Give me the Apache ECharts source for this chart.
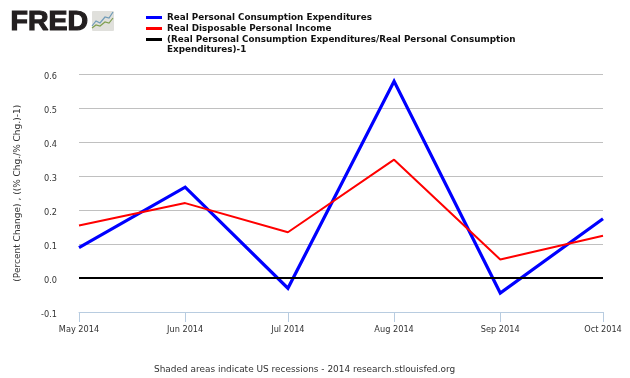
<!DOCTYPE html>
<html><head><meta charset="utf-8">
<style>html,body{margin:0;padding:0;background:#fff}#c{width:630px;height:378px}</style>
<script src="https://cdn.jsdelivr.net/npm/echarts@6/dist/echarts.min.js"></script>
</head><body><div id="c"></div>
<script>
const dates = ['2014-05-01','2014-06-01','2014-07-01','2014-08-01','2014-09-01','2014-10-01'];
const pce = [0.09,0.268,-0.03,0.58,-0.044,0.175];
const dpi = [0.155,0.221,0.135,0.349,0.055,0.125];
const ratio = [0,0,0,0,0,0];
const yTicks = {min:-0.1,max:0.6,interval:0.1};
const names = ['Real Personal Consumption Expenditures','Real Disposable Personal Income','(Real Personal Consumption Expenditures/Real Personal Consumption\nExpenditures)-1'];
const yTitle = '(Percent Change) , ((% Chg./% Chg.)-1)';
const footer = 'Shaded areas indicate US recessions - 2014 research.stlouisfed.org';
const logoA = [[92,26],[96,21],[100,23],[105,17],[109,18],[113,12]];
const logoB = [[92,28],[96,25],[100,26],[105,22],[109,23],[113,18]];
const ts = d => Date.parse(d+'T00:00:00Z');
const pairs = a => dates.map((d,i)=>[ts(d),a[i]]);
const f = '"DejaVu Sans"';
const chart = echarts.init(document.getElementById('c'),null,{renderer:'canvas'});
chart.setOption({
  useUTC:true, animation:false, backgroundColor:'#fff',
  textStyle:{fontFamily:f},
  grid:{left:79,right:27,top:74.5,bottom:66,containLabel:false},
  legend:{left:146,top:12,padding:0,orient:'vertical',itemWidth:16,itemHeight:3,itemGap:0,icon:'rect',
    formatter:n=>n.split('\n')[0],
    textStyle:{fontFamily:f,fontSize:8.8,fontWeight:'bold',color:'#111',lineHeight:11,padding:[0,0,0,0]},
    data:names},
  xAxis:{type:'time',min:ts(dates[0]),max:ts(dates[5]),
    splitNumber:5,
    axisLine:{onZero:false,lineStyle:{color:'#b8cce0',width:1}},
    axisTick:{show:true,inside:false,length:10,lineStyle:{color:'#b8cce0',width:1}},
    axisLabel:{formatter:'{MMM} {yyyy}',fontSize:8.2,color:'#333',margin:14,hideOverlap:false,showMinLabel:true,showMaxLabel:true,alignMinLabel:'center',alignMaxLabel:'center'},
    minorTick:{show:false},splitLine:{show:false}},
  yAxis:{type:'value',...yTicks,
    name:yTitle,nameLocation:'middle',nameGap:56.5,nameRotate:90,
    nameTextStyle:{fontSize:9,color:'#333'},
    axisLine:{show:false},axisTick:{show:false},
    axisLabel:{fontSize:8.2,color:'#333',margin:22,verticalAlign:'top',lineHeight:5,formatter:v=>v.toFixed(1)},
    splitLine:{lineStyle:{color:'#c0c0c0',width:1}}},
  series:[
    {name:names[0],type:'line',data:pairs(pce),symbol:'none',z:3,lineStyle:{color:'#0000ff',width:3.2,join:'miter'},itemStyle:{color:'#0000ff'}},
    {name:names[1],type:'line',data:pairs(dpi),symbol:'none',z:4,lineStyle:{color:'#ff0000',width:2},itemStyle:{color:'#ff0000'}},
    {name:names[2],type:'line',data:pairs(ratio),symbol:'none',z:5,lineStyle:{color:'#000000',width:2},itemStyle:{color:'#000000'}}
  ],
  graphic:[
    {type:'text',left:10,top:7,style:{text:'FRED',font:'900 28.5px "Liberation Sans"',fill:'#231f20',stroke:'#231f20',lineWidth:1.2}},
    {type:'rect',shape:{x:92,y:11,width:22,height:20,r:1},style:{fill:'#e0e0dc'}},
    {type:'polyline',shape:{points:logoA},style:{stroke:'#6f9bb8',fill:null,lineWidth:1.2}},
    {type:'polyline',shape:{points:logoB},style:{stroke:'#7f9f50',fill:null,lineWidth:1.2}},
    {type:'text',left:167,top:45.5,style:{text:names[2].split('\n')[1],font:'bold 8.8px "DejaVu Sans"',fill:'#111'}},
    {type:'text',left:154,top:365,style:{text:footer,font:'8.95px "DejaVu Sans"',fill:'#333'}}
  ]
});
</script></body></html>
